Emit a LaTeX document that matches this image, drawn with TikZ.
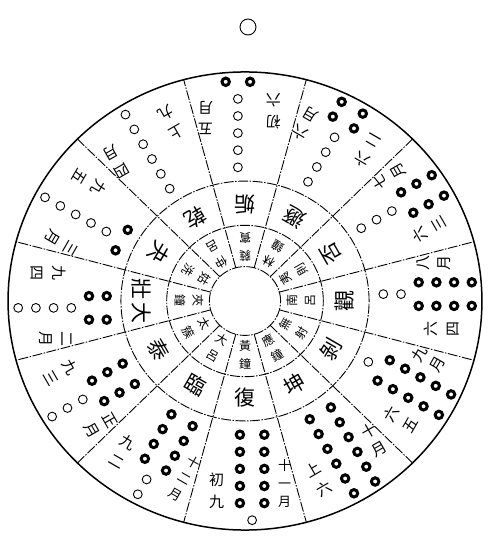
\documentclass[tikz,border=0pt]{standalone}
\usepackage{fontspec}
\newfontfamily\cjk{Noto Sans CJK TC}
\begin{document}
\begin{tikzpicture}[x=1pt,y=1pt,
  ringline/.style={line width=0.9pt, dash pattern=on 10pt off 1.5pt on 1.5pt off 1.5pt},
  rim/.style={line width=1.5pt},
  yinbead/.style={line width=3pt},
  yangbead/.style={line width=0.9pt},
  monthlab/.style={inner sep=0pt, align=center},
  linelab/.style={font=\cjk\fontsize{15}{22}\selectfont, inner sep=0pt, align=center},
  gualab/.style={font=\cjk\fontsize{21}{21}\selectfont, inner sep=0pt},
  lvlab/.style={font=\cjk\fontsize{12}{18}\selectfont, inner sep=0pt, align=center}]
\useasboundingbox (0,0) rectangle (493,552);
\draw[line width=0.9pt] (248,525) circle[radius=8pt];
\begin{scope}[shift={(245pt,251pt)}, x={(1.017pt,0pt)}, y={(0pt,0.983pt)}]
  \draw[rim] (0,0) circle (233);
  \draw[ringline] (0,0) circle (122);
  \draw[ringline] (0,0) circle (77);
  \draw[ringline] (0,0) circle (35);
  \foreach \k in {0,...,11} \draw[ringline] (30*\k+15:35) -- (30*\k+15:233);
  \foreach \a/\g/\lv/\mo/\fs/\ms/\li [count=\n] in {
    -90/復/黃\\鐘/十\\一\\月/13/18/初\\九,
    -120/臨/大\\呂/十\\二\\月/13/18/九\\二,
    -150/泰/太\\簇/正\\月/15/21/九\\三,
    180/壯/夾\\鐘/二\\月/15/21/九\\四,
    150/夬/姑\\洗/三\\月/15/21/九\\五,
    120/乾/仲\\呂/四\\月/15/21/上\\九,
    90/姤/蕤\\賓/五\\月/15/21/初\\六,
    60/遯/林\\鐘/六\\月/15/21/六\\二,
    30/否/夷\\則/七\\月/15/21/六\\三,
    0/觀/南\\呂/八\\月/15/21/六\\四,
    -30/剝/無\\射/九\\月/15/21/六\\五,
    -60/坤/應\\鐘/十\\月/15/21/上\\六}{
    \pgfmathsetmacro\rot{\a+90}
    \ifnum\n=4
      \path (\a:102) ++(\rot:12) node[gualab, rotate=\rot, name=gua4a] {大};
      \path (\a:102) ++(\rot:-12) node[gualab, rotate=\rot, name=gua4b] {\g};
    \else
      \path (\a:98) node[gualab, rotate=\rot, name=gua\n] {\g};
    \fi
    \path (\a:55) node[lvlab, rotate=\rot, name=lv\n] {\lv};
    \path (\a:186) ++(\rot:39) node[monthlab, font=\cjk\fontsize{\fs}{\ms}\selectfont, rotate=\rot, name=mon\n] {\mo};
    \path (\a:193) ++(\rot:-28) node[linelab, rotate=\rot, name=yao\n] {\li};
    \foreach \k in {1,...,6}{
      \pgfmathsetmacro\rr{223-17.4*(\k-1)}
      \pgfmathtruncatemacro\yang{(\n<=6)*(\k<=\n)+(\n>6)*(\k>\n-6)}
      \ifnum\yang=1
        \draw[yangbead] (\a:\rr) ++(\rot:7) circle[radius=4.4pt];
      \else
        \draw[yinbead] (\a:\rr) ++(\rot:-5) circle[radius=3.7pt];
        \draw[yinbead] (\a:\rr) ++(\rot:19) circle[radius=3.7pt];
      \fi
    }
  }
\end{scope}
\end{tikzpicture}
\end{document}
